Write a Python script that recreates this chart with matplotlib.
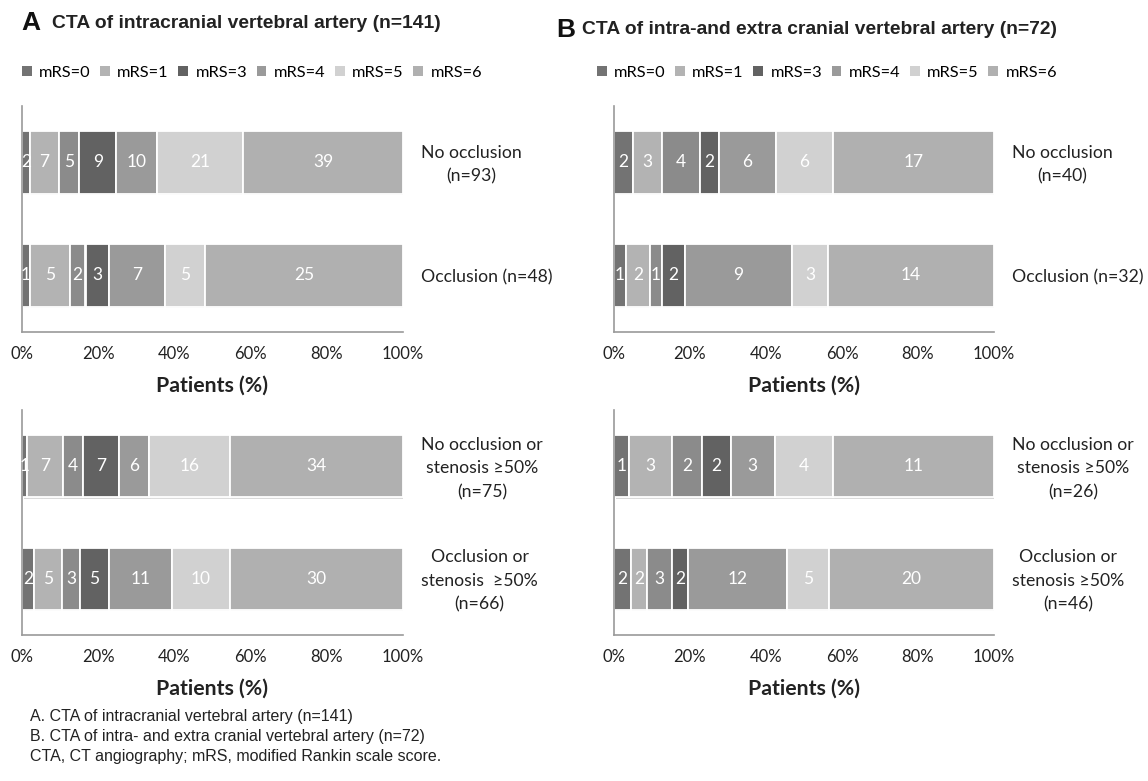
"""
Stacked horizontal bars of mRS outcome by CTA finding, panels A and B.
"""

import matplotlib.pyplot as plt
import matplotlib.patheffects as pe
from matplotlib.patches import Patch

# mRS categories and their grey tones (mRS=2 is not shown in the legend)
mrs_labels = ['mRS=0', 'mRS=1', 'mRS=2', 'mRS=3', 'mRS=4', 'mRS=5', 'mRS=6']
mrs_colors = ['#737373', '#b3b3b3', '#8b8b8b', '#626262', '#9a9a9a', '#d1d1d1', '#b0b0b0']
legend_keys = ['mRS=0', 'mRS=1', 'mRS=3', 'mRS=4', 'mRS=5', 'mRS=6']

# Panel A, upper chart
a_top_groups = ['No occlusion\n(n=93)', 'Occlusion (n=48)']
a_top_counts = [[2, 7, 5, 9, 10, 21, 39],
                [1, 5, 2, 3, 7, 5, 25]]

# Panel A, lower chart
a_bot_groups = ['No occlusion or\nstenosis \u226550%\n(n=75)', 'Occlusion or\nstenosis  \u226550%\n(n=66)']
a_bot_counts = [[1, 7, 4, 7, 6, 16, 34],
                [2, 5, 3, 5, 11, 10, 30]]

# Panel B, upper chart
b_top_groups = ['No occlusion\n(n=40)', 'Occlusion (n=32)']
b_top_counts = [[2, 3, 4, 2, 6, 6, 17],
                [1, 2, 1, 2, 9, 3, 14]]

# Panel B, lower chart
b_bot_groups = ['No occlusion or\nstenosis \u226550%\n(n=26)', 'Occlusion or\nstenosis \u226550%\n(n=46)']
b_bot_counts = [[1, 3, 2, 2, 3, 4, 11],
                [2, 2, 3, 2, 12, 5, 20]]

x_ticks = [0, 20, 40, 60, 80, 100]
x_ticklabels = ['0%', '20%', '40%', '60%', '80%', '100%']

CAL = 'Lato'
W, H = 1148, 781


def px_box(x0, x1, ytop, ybot):
    return [x0 / W, 1 - ybot / H, (x1 - x0) / W, (ybot - ytop) / H]


def draw_panel(ax, groups, counts):
    ypos = [1, 0]
    for y, row in zip(ypos, counts):
        total = sum(row)
        left = 0.0
        for k, c in enumerate(row):
            w = c / total * 100
            bar = ax.barh(y, w, left=left, height=0.55, color=mrs_colors[k],
                          edgecolor='white', linewidth=1.3)
            for p in bar:
                p.set_path_effects([pe.SimplePatchShadow(offset=(1.2, -1.2), alpha=0.18),
                                    pe.Normal()])
            ax.text(left + w / 2, y, str(c), ha='center', va='center',
                    color='white', fontsize=12.5, family=CAL)
            left += w
    for y, g in zip(ypos, groups):
        ax.text(1.048, y - 0.02, g, transform=ax.get_yaxis_transform(), ha='left',
                va='center', multialignment='center', fontsize=12.7,
                family=CAL, color='#222222', linespacing=1.6)
    ax.set_xlim(0, 100)
    ax.set_ylim(-0.5, 1.5)
    ax.set_yticks([])
    ax.set_xticks(x_ticks)
    ax.set_xticklabels(x_ticklabels, family=CAL, fontsize=12, color='#222222')
    ax.tick_params(axis='x', length=0, pad=10)
    for s in ['top', 'right']:
        ax.spines[s].set_visible(False)
    for s in ['left', 'bottom']:
        ax.spines[s].set_color('#9a9a9a')
        ax.spines[s].set_linewidth(1.2)
    ax.set_xlabel('Patients (%)', family=CAL, fontsize=15.3, fontweight='bold',
                  color='#222222', labelpad=10)


fig = plt.figure(figsize=(W / 100, H / 100), dpi=100)

ax_at = fig.add_axes(px_box(22, 403, 106, 332))
ax_ab = fig.add_axes(px_box(22, 403, 410, 635))
ax_bt = fig.add_axes(px_box(614, 994, 106, 332))
ax_bb = fig.add_axes(px_box(614, 994, 410, 635))

draw_panel(ax_at, a_top_groups, a_top_counts)
draw_panel(ax_ab, a_bot_groups, a_bot_counts)
draw_panel(ax_bt, b_top_groups, b_top_counts)
draw_panel(ax_bb, b_bot_groups, b_bot_counts)

# panel titles
fig.text(21 / W, 1 - 23 / H, 'A', fontsize=19, fontweight='bold',
         family='Liberation Sans', va='center', color='#111111')
fig.text(52 / W, 1 - 24 / H, 'CTA of intracranial vertebral artery (n=141)',
         fontsize=13.9, fontweight='bold', family='Liberation Sans', va='center',
         color='#222222')
fig.text(556 / W, 1 - 30 / H, 'B', fontsize=19, fontweight='bold',
         family='Liberation Sans', va='center', color='#111111')
fig.text(582 / W, 1 - 30 / H, 'CTA of intra-and extra cranial vertebral artery (n=72)',
         fontsize=13.9, fontweight='bold', family='Liberation Sans', va='center',
         color='#222222')

# legends
handles = [Patch(facecolor=mrs_colors[mrs_labels.index(k)], edgecolor='none', label=k)
           for k in legend_keys]
for x0 in [7, 582]:
    fig.legend(handles=handles, loc='center left', bbox_to_anchor=(x0 / W, 1 - 73 / H),
               ncol=6, frameon=False, handlelength=0.6, handleheight=0.6,
               handletextpad=0.45, columnspacing=0.58,
               prop={'family': CAL, 'size': 11.8})

# footnotes
notes = ['A. CTA of intracranial vertebral artery (n=141)',
         'B. CTA of intra- and extra cranial vertebral artery (n=72)',
         'CTA, CT angiography; mRS, modified Rankin scale score.']
for i, t in enumerate(notes):
    fig.text(30 / W, 1 - (716 + 20.5 * i) / H, t, fontsize=11.5,
             family='Liberation Sans', va='center', color='#222222')

fig.savefig('out.png', dpi=100)
